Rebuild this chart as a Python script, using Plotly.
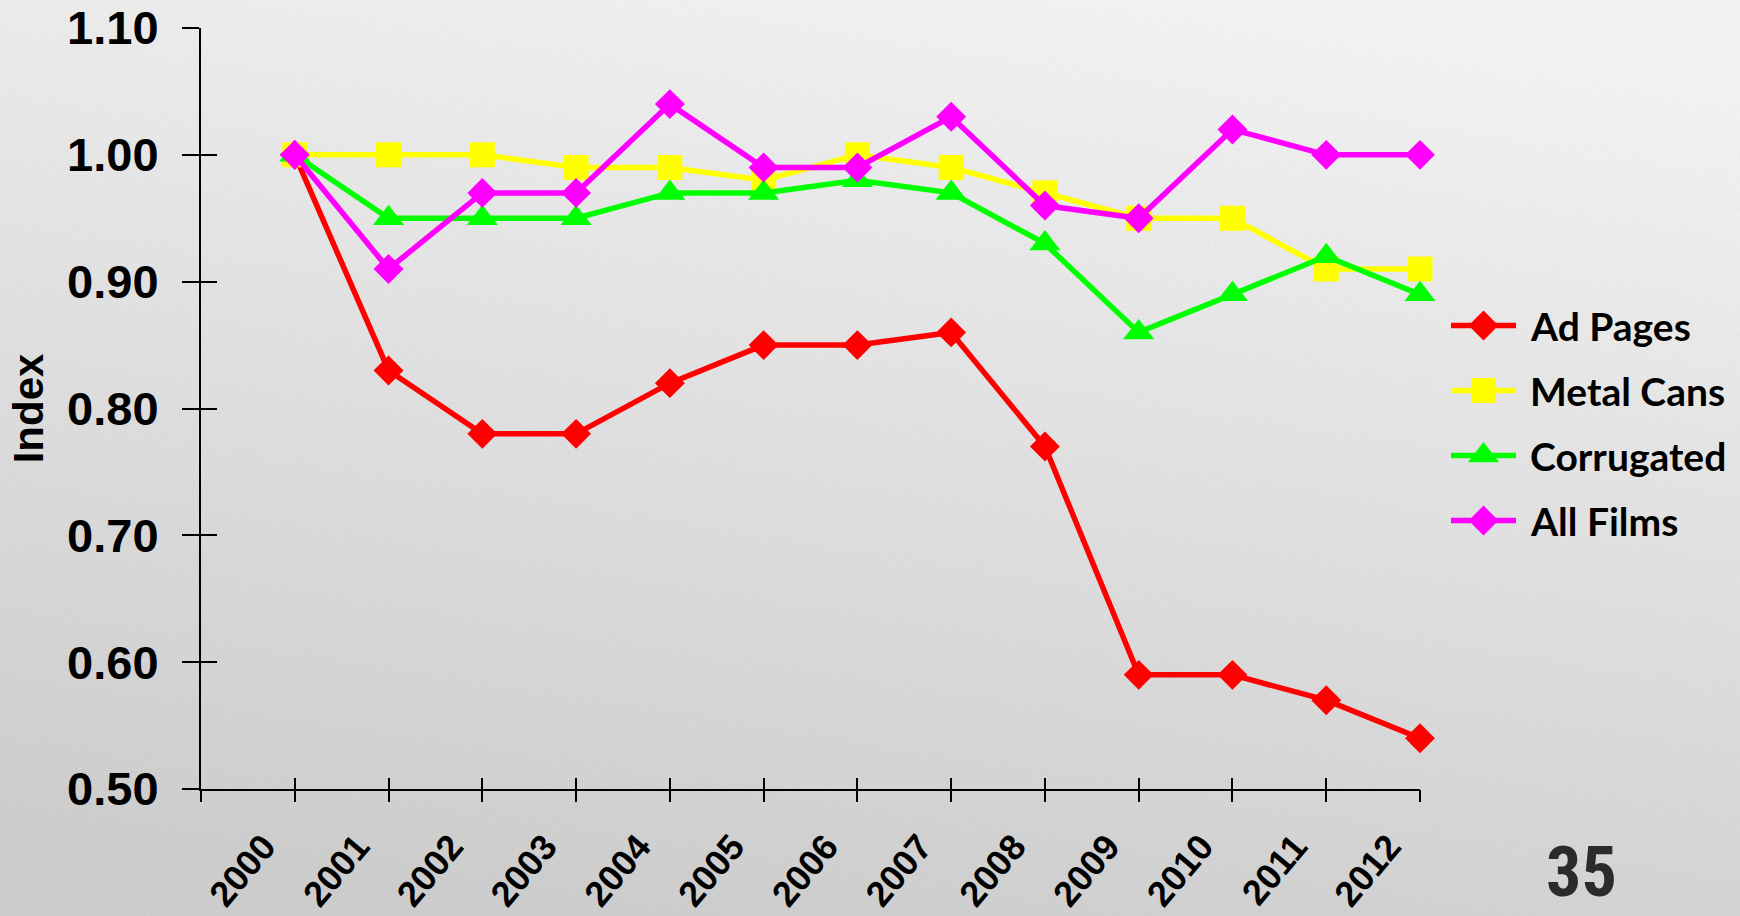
import base64
import plotly.graph_objects as go

# data
years = [2000, 2001, 2002, 2003, 2004, 2005, 2006, 2007, 2008, 2009, 2010, 2011, 2012]
year_labels = [str(y) for y in years]

ad_pages = [1.00, 0.83, 0.78, 0.78, 0.82, 0.85, 0.85, 0.86, 0.77, 0.59, 0.59, 0.57, 0.54]
metal_cans = [1.00, 1.00, 1.00, 0.99, 0.99, 0.98, 1.00, 0.99, 0.97, 0.95, 0.95, 0.91, 0.91]
corrugated = [1.00, 0.95, 0.95, 0.95, 0.97, 0.97, 0.98, 0.97, 0.93, 0.86, 0.89, 0.92, 0.89]
all_films = [1.00, 0.91, 0.97, 0.97, 1.04, 0.99, 0.99, 1.03, 0.96, 0.95, 1.02, 1.00, 1.00]

y_ticks = [0.50, 0.60, 0.70, 0.80, 0.90, 1.00, 1.10]
slide_number = "35"

series = [
    ("Ad Pages", ad_pages, "#ff0000", "diamond", 23),
    ("Metal Cans", metal_cans, "#ffff00", "square", 25),
    ("Corrugated", corrugated, "#00ff00", "triangle-up", 27),
    ("All Films", all_films, "#ff00ff", "diamond", 23),
]

W, H = 1740, 916
L, R, T, B = 201, 0, 28, 127
pw, ph = W - L - R, H - T - B
plot_right = 1420            # right end of the x axis, px
x_dom = [0, (plot_right - L) / pw]
tick_ticks = [years[0] - 1] + years   # tick marks incl. the one at the y axis
label_shift = 0.33           # labels sit left of their tick, like the excel original

# textured grey background (svg gradient + noise)
svg = f"""<svg xmlns='http://www.w3.org/2000/svg' width='{W}' height='{H}'>
<defs>
<linearGradient id='g' x1='0.65' y1='0' x2='0.35' y2='1'>
<stop offset='0' stop-color='#f6f6f6'/><stop offset='1' stop-color='#cecece'/>
</linearGradient>
<filter id='n'><feTurbulence type='fractalNoise' baseFrequency='0.7' numOctaves='2' stitchTiles='stitch'/>
<feColorMatrix type='saturate' values='0'/></filter>
</defs>
<rect width='100%' height='100%' fill='url(#g)'/>
<rect width='100%' height='100%' filter='url(#n)' opacity='0.16'/>
</svg>"""
bg_src = "data:image/svg+xml;base64," + base64.b64encode(svg.encode()).decode()

fig = go.Figure()

for name, vals, color, symbol, size in series:
    fig.add_trace(go.Scatter(
        x=years, y=vals, name=name,
        mode="lines+markers",
        line=dict(color=color, width=5.5),
        marker=dict(symbol=symbol, size=size, color=color),
        cliponaxis=False, showlegend=False,
    ))

# empty traces so the overlay axes (crossing tick halves) are drawn
for xa, ya in [("x2", "y"), ("x3", "y"), ("x", "y2")]:
    fig.add_trace(go.Scatter(x=[], y=[], xaxis=xa, yaxis=ya, showlegend=False, hoverinfo="skip"))

# legend drawn on its own small axis so line and markers keep full size
legend_font = dict(family="Lato, Open Sans", size=39, color="black", weight="bold")
annotations = []
for i, (name, vals, color, symbol, size) in enumerate(series):
    fig.add_trace(go.Scatter(
        x=[0, 1], y=[i, i], xaxis="x4", yaxis="y3",
        mode="lines", line=dict(color=color, width=5.5),
        cliponaxis=False, showlegend=False, hoverinfo="skip",
    ))
    fig.add_trace(go.Scatter(
        x=[0.5], y=[i], xaxis="x4", yaxis="y3",
        mode="markers", marker=dict(symbol=symbol, size=size, color=color),
        cliponaxis=False, showlegend=False, hoverinfo="skip",
    ))
    annotations.append(dict(
        text=name, xref="x4", yref="y3", x=1, y=i, xshift=12,
        xanchor="left", yanchor="middle", showarrow=False, font=legend_font,
    ))

annotations.append(dict(
    text=slide_number,
    xref="paper", yref="paper",
    x=(1581 - L) / pw, y=(789 - 872) / ph,
    xanchor="center", yanchor="middle",
    showarrow=False,
    font=dict(family="Roboto Condensed, Liberation Sans Narrow, DejaVu Sans Condensed, DejaVu Sans",
              size=70, color="#2b2b2b", weight="bold"),
))

plain = dict(showgrid=False, zeroline=False, automargin=False)

fig.update_layout(
    width=W, height=H, autosize=False,
    margin=dict(l=L, r=R, t=T, b=B),
    paper_bgcolor="#e2e2e2",
    plot_bgcolor="rgba(0,0,0,0)",
    showlegend=False,
    images=[dict(
        source=bg_src,
        xref="paper", yref="paper",
        x=-L / pw, y=1 + T / ph,
        sizex=W / pw, sizey=H / ph,
        xanchor="left", yanchor="top",
        sizing="stretch", layer="below",
    )],
    xaxis=dict(
        domain=x_dom,
        range=[years[0] - 1, years[-1]],
        tickvals=[y - label_shift for y in years],
        ticktext=year_labels,
        tickangle=-50,
        ticks="",
        showline=True, linecolor="black", linewidth=2,
        tickfont=dict(family="Arial, Liberation Sans", size=36, color="black", weight="bold"),
        ticklabelstandoff=20,
        **plain,
    ),
    xaxis2=dict(
        overlaying="x", anchor="y",
        range=[years[0] - 1, years[-1]],
        tickvals=tick_ticks,
        ticks="outside", ticklen=12, tickwidth=2, tickcolor="black",
        showticklabels=False, showline=False, **plain,
    ),
    xaxis3=dict(
        overlaying="x", anchor="y",
        range=[years[0] - 1, years[-1]],
        tickvals=tick_ticks,
        ticks="inside", ticklen=11, tickwidth=2, tickcolor="black",
        showticklabels=False, showline=False, **plain,
    ),
    yaxis=dict(
        range=[y_ticks[0], y_ticks[-1]],
        tickvals=y_ticks,
        ticktext=[f"{v:.2f}" for v in y_ticks],
        ticks="outside", ticklen=17, tickwidth=2, tickcolor="black",
        showline=True, linecolor="black", linewidth=2,
        tickfont=dict(family="Arial, Liberation Sans", size=47, color="black", weight="bold"),
        ticklabelstandoff=14,
        title=dict(text="Index", standoff=10,
                   font=dict(family="Arial, Liberation Sans", size=42, color="black", weight="bold")),
        **plain,
    ),
    yaxis2=dict(
        overlaying="y", anchor="x", side="left",
        range=[y_ticks[0], y_ticks[-1]],
        tickvals=y_ticks,
        ticks="inside", ticklen=16, tickwidth=2, tickcolor="black",
        showticklabels=False, showline=False, **plain,
    ),
    xaxis4=dict(
        domain=[(1451 - L) / pw, (1516 - L) / pw], anchor="y3",
        range=[0, 1], visible=False, **plain,
    ),
    yaxis3=dict(
        domain=[(789 - 553) / ph, (789 - 293) / ph], anchor="x4",
        range=[len(series) - 0.5, -0.5], visible=False, **plain,
    ),
    annotations=annotations,
)

fig.write_html("out.html", config={"displayModeBar": False},
               post_script="document.body.style.margin='0px';")
